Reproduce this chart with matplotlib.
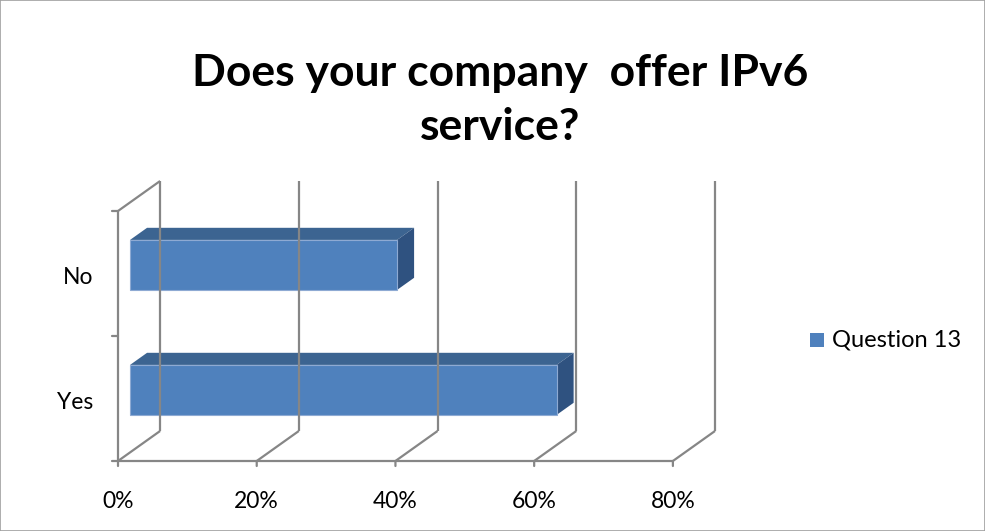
"""Horizontal 3-D style bar chart: IPv6 service offering survey answer."""

import matplotlib

matplotlib.use("Agg")
import matplotlib.pyplot as plt  # noqa: E402
from matplotlib.patches import Polygon, Rectangle  # noqa: E402

plt.rcParams["font.family"] = ["Lato", "DejaVu Sans"]

categories = ["Yes", "No"]
values = [61.5, 38.5]
series_name = "Question 13"
xticks = [0, 20, 40, 60, 80]
xtick_labels = ["0%", "20%", "40%", "60%", "80%"]
title = "Does your company  offer IPv6\nservice?"

FRONT = "#4F81BD"
TOP = "#3C6491"
SIDE = "#2F5280"
GRID = "#868686"

# depth of the fake 3-D box, in data units (x in %, y in category units)
DX, DY = 6.07, 0.24
BAR_NEAR, BAR_FAR = 0.286, 0.69   # fraction of the depth the bars occupy
BAR_H = 0.4

fig = plt.figure(figsize=(9.85, 5.31), dpi=100)
fig.patches.append(Rectangle((0, 0), 1, 1, transform=fig.transFigure,
                             fill=False, edgecolor="#A0A0A0", linewidth=1.2))
ax = fig.add_axes([118 / 985, 70 / 531, 597 / 985, 280 / 531])
ax.set_xlim(0, xticks[-1] + DX)
ax.set_ylim(-0.5, len(categories) - 0.5 + DY)
ax.axis("off")

y0, y1 = -0.5, len(categories) - 0.5
line = dict(color=GRID, linewidth=1.6, clip_on=False, solid_capstyle="butt")

# back wall verticals and floor diagonals at each tick
for t in xticks:
    ax.plot([t + DX, t + DX], [y0 + DY, y1 + DY], **line)
    ax.plot([t, t + DX], [y0, y0 + DY], **line)
# left wall
ax.plot([0, DX], [y1, y1 + DY], **line)
ax.plot([0, 0], [y0, y1], **line)
ax.plot([0, xticks[-1]], [y0, y0], **line)

# tick marks and labels
for t, lab in zip(xticks, xtick_labels):
    ax.annotate("", xy=(t, y0), xytext=(0, -5), textcoords="offset pixels",
                arrowprops=dict(arrowstyle="-", color=GRID, lw=1.6,
                                shrinkA=0, shrinkB=0))
    ax.annotate(lab, xy=(t, y0), xytext=(0, -41), textcoords="offset pixels",
                ha="center", va="center", fontsize=16.5, color="#000000")
for i in range(len(categories) + 1):
    ax.annotate("", xy=(0, y0 + i), xytext=(-6, 0), textcoords="offset pixels",
                arrowprops=dict(arrowstyle="-", color=GRID, lw=1.6,
                                shrinkA=0, shrinkB=0))
for i, cat in enumerate(categories):
    ax.annotate(cat, xy=(0, i), xytext=(-25, -4), textcoords="offset pixels",
                ha="right", va="center", fontsize=16.5, color="#000000")

# bars: front face, top face, right side face
for i, v in enumerate(values):
    nx, ny = BAR_NEAR * DX, BAR_NEAR * DY
    fx, fy = BAR_FAR * DX, BAR_FAR * DY
    b, t = i - BAR_H / 2, i + BAR_H / 2
    top = Polygon([(nx, t + ny), (nx + v, t + ny), (fx + v, t + fy), (fx, t + fy)],
                  closed=True, facecolor=TOP, edgecolor="none", clip_on=False)
    side = Polygon([(nx + v, b + ny), (fx + v, b + fy), (fx + v, t + fy), (nx + v, t + ny)],
                   closed=True, facecolor=SIDE, edgecolor="none", clip_on=False)
    front = Rectangle((nx, b + ny), v, BAR_H, facecolor=FRONT,
                      edgecolor="#8EAAD3", linewidth=0.8, clip_on=False)
    for p in (top, side, front):
        ax.add_patch(p)

fig.text(0.508, 1 - 100 / 531, title, ha="center", va="center", fontsize=32,
         fontweight="bold", linespacing=1.42)

# legend
fig.patches.append(Rectangle((810 / 985, 1 - 347 / 531), 14 / 985, 14 / 531,
                             transform=fig.transFigure, facecolor=FRONT,
                             edgecolor="none"))
fig.text(832 / 985, 1 - 340 / 531, series_name, ha="left", va="center",
         fontsize=17)

fig.savefig("out.png", dpi=100)
